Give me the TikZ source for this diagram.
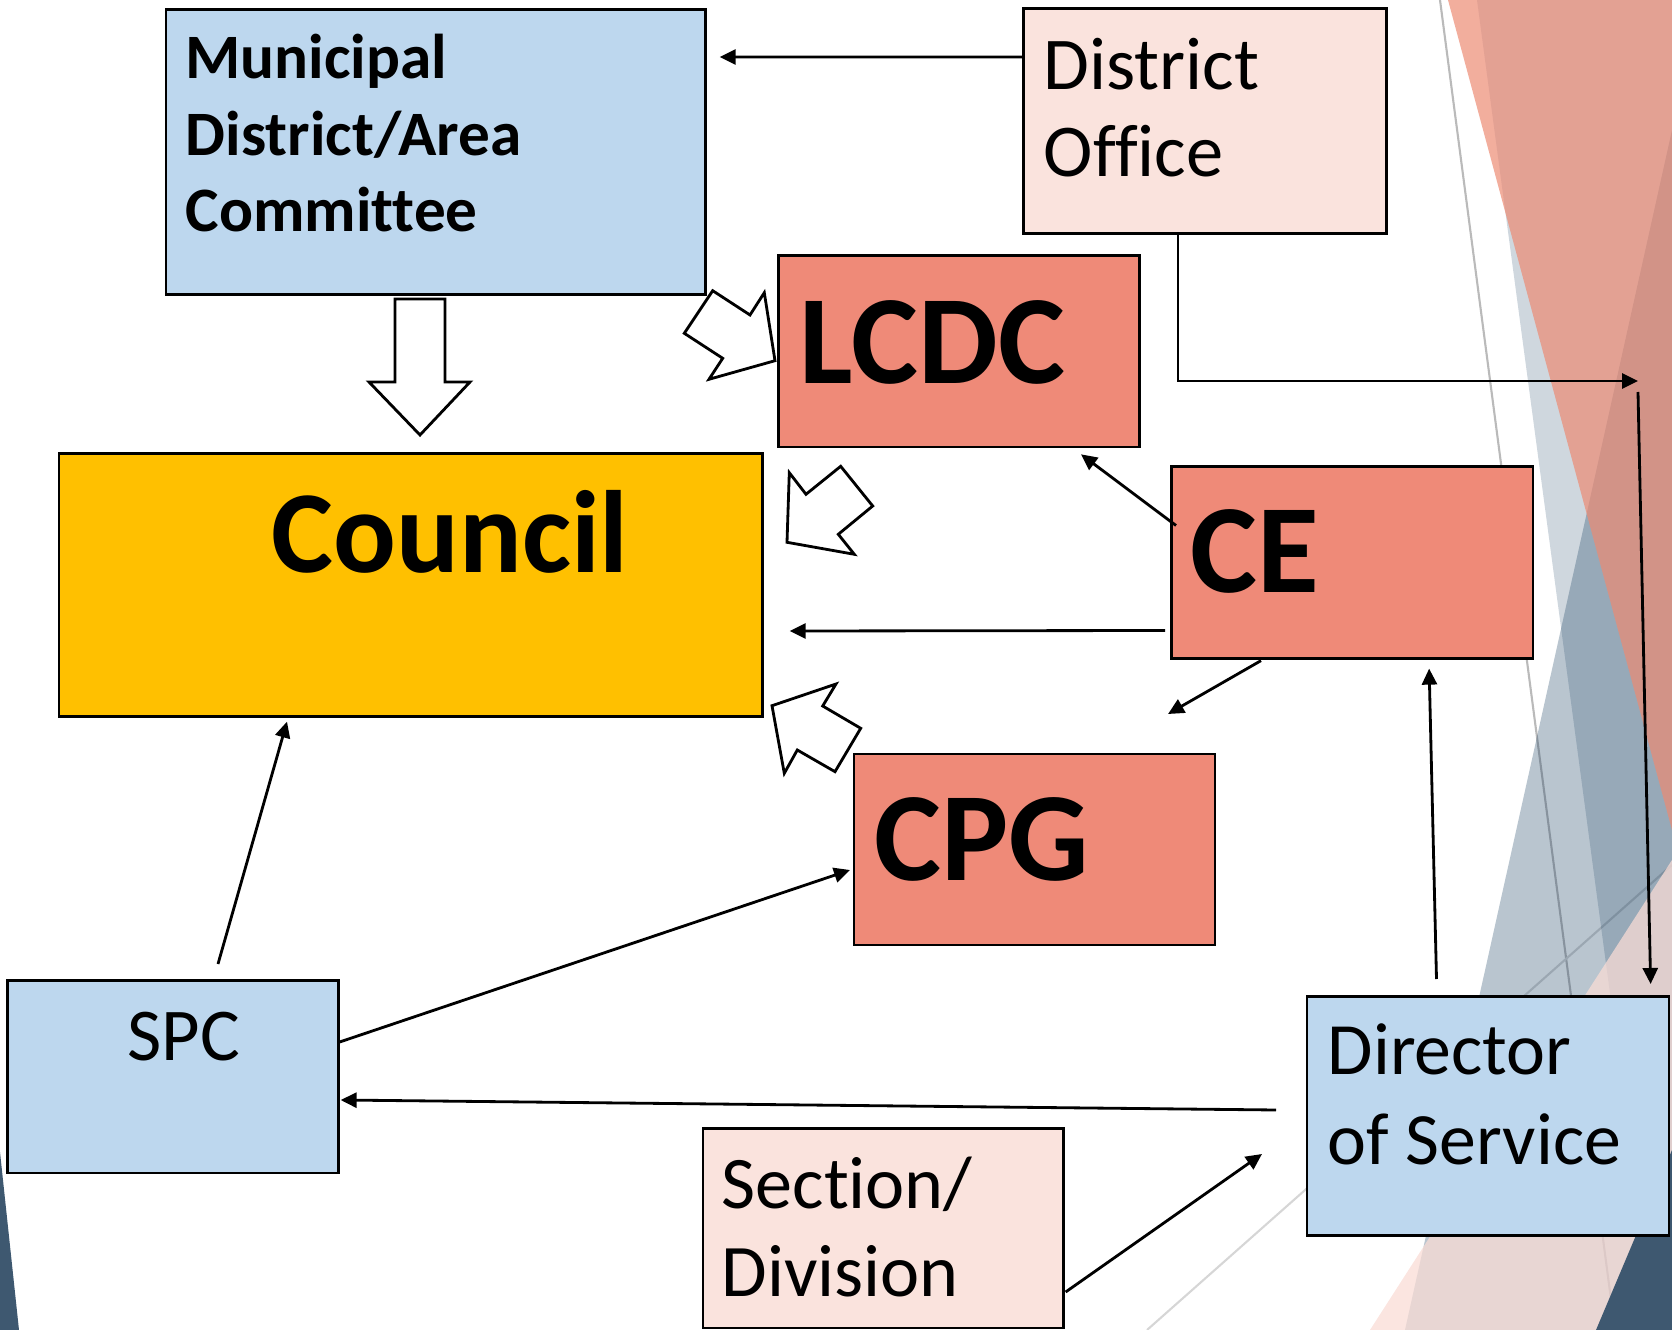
\documentclass[tikz,border=0pt]{standalone}
\usepackage{fontspec}
\setmainfont{Carlito}[Ligatures=NoCommon]
\usepackage{tikz}
\usetikzlibrary{arrows.meta}

\definecolor{paleblue}{HTML}{BDD7EE}
\definecolor{palepink}{HTML}{FAE3DD}
\definecolor{salmon}{HTML}{EF8A78}
\definecolor{gold}{HTML}{FFC000}
\definecolor{facetnavy}{RGB}{14,55,90}
\definecolor{facetdark}{HTML}{3E5870}
\definecolor{facetsalmon}{RGB}{236,139,116}
\definecolor{facetpink}{RGB}{249,220,213}

\begin{document}
\begin{tikzpicture}[
    x=0.1mm, y=-0.1mm,
    box/.style={rectangle, draw=black, line width=0.75pt, anchor=north west, inner sep=0pt},
    bodybox/.style={box, fill=paleblue},
    officebox/.style={box, fill=palepink},
    keybox/.style={box, fill=salmon},
    councilbox/.style={box, fill=gold},
    txt/.style={anchor=base west, inner sep=0pt, align=left},
    small/.style={font=\fontsize{21.2}{25}\selectfont},
    big/.style={font=\fontsize{36}{40}\selectfont\bfseries},
    arrow/.style={-{Triangle[length=1.6mm, width=1.5mm]}, line width=0.8pt},
    fat/.style={draw=black, line width=0.8pt, fill=white, line join=miter}
]
    \useasboundingbox (0,0) rectangle (1672,1330);

    % facet background
    \begin{scope}
        \clip (0,0) rectangle (1672,1330);
        \draw[black!27, line width=0.6pt] (1440,0) -- (1615,1330);
        \draw[black!16, line width=0.6pt] (1147,1330) -- (1672,865);
        \fill[facetnavy, opacity=0.2] (1477,0) -- (1672,0) -- (1672,1330) -- (1655,1330) -- cycle;
        \fill[facetnavy, opacity=0.29] (1672,130) -- (1672,1330) -- (1405,1330) -- cycle;
        \fill[facetsalmon, opacity=0.7] (1448,0) -- (1672,0) -- (1672,830) -- cycle;
        \fill[facetpink, opacity=0.75] (1672,860) -- (1672,1330) -- (1370,1330) -- cycle;
        \fill[facetdark] (1672,1150) -- (1672,1330) -- (1596,1330) -- cycle;
        \fill[facetdark] (0,1152) -- (19,1330) -- (0,1330) -- cycle;
    \end{scope}

    % boxes
    \node[bodybox, minimum width=53.95mm, minimum height=28.5mm] (mdac) at (164.5,8) {};
    \node[officebox, minimum width=36.3mm, minimum height=22.45mm] (do) at (1022,7.5) {};
    \node[keybox, minimum width=36.1mm, minimum height=19.17mm] (lcdc) at (777,254) {};
    \node[councilbox, minimum width=70.34mm, minimum height=26.3mm] (council) at (57.6,452.5) {};
    \node[keybox, minimum width=36.15mm, minimum height=19.15mm] (ce) at (1170,465.5) {};
    \node[keybox, minimum width=36.1mm, minimum height=19.1mm] (cpg) at (852.5,752.7) {};
    \node[bodybox, minimum width=33.1mm, minimum height=19.25mm] (spc) at (6,979) {};
    \node[bodybox, minimum width=36.2mm, minimum height=23.9mm] (dos) at (1305.5,995) {};
    \node[officebox, minimum width=36.04mm, minimum height=19.95mm] (sec) at (701.6,1127) {};

    % labels (base west sits on the last line)
    \node[txt, font=\fontsize{18}{21.9}\selectfont\bfseries] (mdac-label) at (185,232) {Municipal\\District/Area\\Committee};
    \node[txt, small] (do-label) at (1043,177) {District\\Office};
    \node[txt, big] (lcdc-label) at (799,384) {LCDC};
    \node[txt, big, font=\fontsize{33.3}{40}\selectfont\bfseries] (council-label) at (271,573) {Council};
    \node[txt, big] (ce-label) at (1190,593) {CE};
    \node[txt, big] (cpg-label) at (874,881) {CPG};
    \node[txt, small] (spc-label) at (127,1060) {SPC};
    \node[txt, font=\fontsize{21}{25.6}\selectfont] (dos-label) at (1327,1164) {Director\\of Service};
    \node[txt, font=\fontsize{21.1}{25}\selectfont] (sec-label) at (721,1296) {Section/\\Division};

    % block arrows
    \draw[fat] (395,299) -- (445,299) -- (445,382) -- (470,382) -- (420,435) -- (369,382) -- (395,382) -- cycle;
    \draw[fat] (712.7,290.7) -- (750,315) -- (764.3,292.7) -- (775,360.7) -- (709,379.3) -- (722.7,358.3) -- (684.3,333.3) -- cycle;
    \draw[fat] (789.3,472.7) -- (806,494.3) -- (840.7,466.3) -- (872.7,506) -- (838.3,534.3) -- (854.3,554.3) -- (787,542.3) -- cycle;
    \draw[fat] (772,705.7) -- (836,684) -- (822.7,706) -- (860.7,728.3) -- (835,771.7) -- (797.3,750) -- (784.3,773.3) -- cycle;

    % line arrows
    \coordinate (relay) at (1638,381);
    \coordinate (relay-down) at (1638,392);
    \draw[arrow] ([shift={(0,49.5)}]do.north west) -- ([shift={(13,49)}]mdac.north east);
    \draw[arrow] ([shift={(156,0)}]do.south west) |- (relay);
    \draw[arrow] (relay-down) -- ([shift={(-19.5,-11)}]dos.north east);
    \draw[arrow] ([shift={(6,60)}]ce.north west) -- ([shift={(304,6)}]lcdc.south west);
    \draw[arrow] ([shift={(-5,165)}]ce.north west) -- ([shift={(26,178.5)}]council.north east);
    \draw[arrow] ([shift={(91,1)}]ce.south west) -- ([shift={(315.5,-38.7)}]cpg.north west);
    \draw[arrow] ([shift={(131,-16)}]dos.north west) -- ([shift={(-105,9)}]ce.south east);
    \draw[arrow] ([shift={(-29.5,115)}]dos.north west) -- ([shift={(1,121)}]spc.north east);
    \draw[arrow] ([shift={(1,165)}]sec.north east) -- ([shift={(-43.5,159)}]dos.north west);
    \draw[arrow] ([shift={(0,63)}]spc.north east) -- ([shift={(-2.5,117.3)}]cpg.north west);
    \draw[arrow] ([shift={(212,-15)}]spc.north west) -- ([shift={(229.4,3.5)}]council.south west);
\end{tikzpicture}
\end{document}
